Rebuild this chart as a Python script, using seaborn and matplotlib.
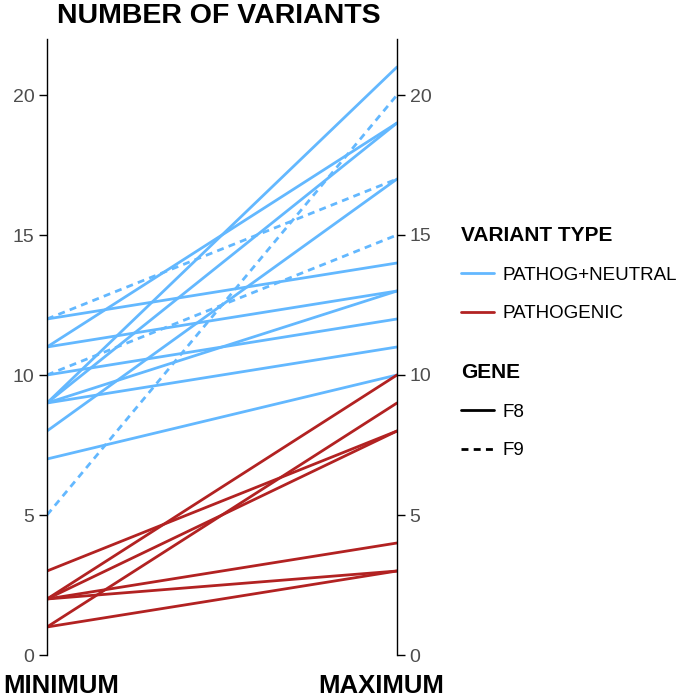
import matplotlib
matplotlib.use("Agg")
import matplotlib.pyplot as plt
from matplotlib.lines import Line2D
import seaborn as sns
import pandas as pd

# ---- data ----
variant_type = ["PATHOG+NEUTRAL"] * 13 + ["PATHOGENIC"] * 7
gene = (["F8"] * 10 + ["F9"] * 3) + ["F8"] * 7
minimum = [12, 11, 11, 10, 9, 9, 9, 9, 8, 7, 12, 10, 5,
           3, 2, 2, 2, 2, 1, 1]
maximum = [14, 19, 13, 12, 21, 19, 13, 11, 17, 10, 17, 15, 20,
           8, 10, 8, 4, 3, 9, 3]
x_labels = ["MINIMUM", "MAXIMUM"]
y_ticks = [0, 5, 10, 15, 20]

rows = []
for i, (vt, g, lo, hi) in enumerate(zip(variant_type, gene, minimum, maximum)):
    rows.append(dict(id=i, pos=0, value=lo, type=vt, gene=g))
    rows.append(dict(id=i, pos=1, value=hi, type=vt, gene=g))
df = pd.DataFrame(rows)

sns.set_style("white")
plt.rcParams['font.family'] = ['Liberation Sans', 'DejaVu Sans']
plt.rcParams['text.color'] = 'black'

palette = {"PATHOG+NEUTRAL": "#63B8FF", "PATHOGENIC": "#B22222"}
dash_pat = (2.5, 1.9)
dashes = {"F8": "", "F9": dash_pat}

fig = plt.figure(figsize=(6.85, 6.97), dpi=100)
ax = fig.add_axes([47 / 685, 1 - 655 / 697, 350 / 685, 616 / 697])

sns.lineplot(data=df, x="pos", y="value", hue="type", style="gene",
             units="id", estimator=None, palette=palette, dashes=dashes,
             linewidth=2.0, legend=False, ax=ax, sort=False)

ax.set_xlim(0, 1)
ax.set_ylim(0, 22)
ax.set_xticks([])
ax.set_xlabel("")
ax.set_ylabel("")
ax.set_yticks(y_ticks)
for s in ["top", "bottom", "right"]:
    ax.spines[s].set_visible(False)
ax.spines["left"].set_color("black")
ax.spines["left"].set_linewidth(1.0)
ax.tick_params(axis="y", direction="out", length=6, width=1.0, color="black",
               labelsize=14, labelcolor="#4D4D4D", pad=3, left=True)

ax2 = ax.twinx()
ax2.set_ylim(0, 22)
ax2.set_yticks(y_ticks)
for s in ["top", "bottom", "left"]:
    ax2.spines[s].set_visible(False)
ax2.spines["right"].set_color("black")
ax2.spines["right"].set_linewidth(1.0)
ax2.tick_params(axis="y", direction="out", length=6, width=1.0, color="black",
                labelsize=14, labelcolor="#4D4D4D", pad=3, right=True)

# title and x labels
fig.text(57 / 685, 1 - 23 / 697, "NUMBER OF VARIANTS", fontsize=20.5,
         fontweight="bold", ha="left", va="baseline", color="black")
fig.text(3 / 685, 1 - 693 / 697, x_labels[0], fontsize=18.5,
         fontweight="bold", ha="left", va="baseline", color="black")
fig.text(318 / 685, 1 - 693 / 697, x_labels[1], fontsize=18.5,
         fontweight="bold", ha="left", va="baseline", color="black")

# legends
common = dict(loc="upper left", frameon=False, fontsize=13.5,
              handlelength=1.75, handletextpad=0.45, labelspacing=1.15,
              alignment="left", borderpad=0, borderaxespad=0)
h_type = [Line2D([], [], color=palette[k], lw=2.0) for k in palette]
leg1 = fig.legend(h_type, list(palette.keys()), title="VARIANT TYPE",
                  bbox_to_anchor=(461 / 685, 1 - 226 / 697), **common)
leg1.get_title().set_fontweight("bold")
leg1.get_title().set_fontsize(15)

h_gene = [Line2D([], [], color="black", lw=2.0, linestyle="-"),
          Line2D([], [], color="black", lw=2.0, dashes=dash_pat)]
leg2 = fig.legend(h_gene, ["F8", "F9"], title="GENE",
                  bbox_to_anchor=(461 / 685, 1 - 363 / 697), **common)
leg2.get_title().set_fontweight("bold")
leg2.get_title().set_fontsize(15)

fig.savefig("out.png", dpi=100)
